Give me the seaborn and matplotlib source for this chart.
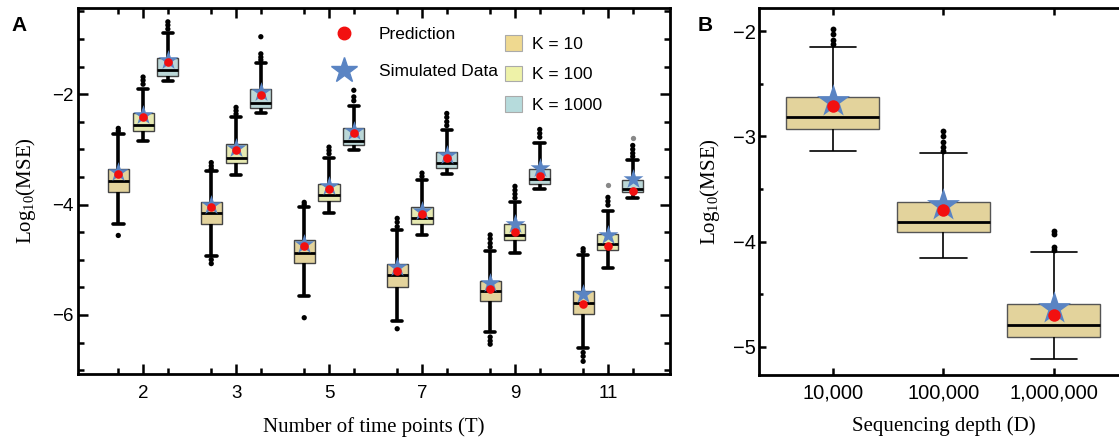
import numpy as np
import pandas as pd
import matplotlib
matplotlib.use("Agg")
import matplotlib.pyplot as plt
import seaborn as sns
from matplotlib.lines import Line2D
from matplotlib.patches import Patch
from matplotlib.ticker import MultipleLocator, FixedLocator

sns.set_style("ticks")
plt.rcParams['font.family'] = ['Liberation Sans', 'DejaVu Sans']
plt.rcParams['mathtext.fontset'] = 'custom'
plt.rcParams['mathtext.rm'] = 'Liberation Serif'
plt.rcParams['mathtext.it'] = 'Liberation Serif:italic'
plt.rcParams['axes.edgecolor'] = 'black'
plt.rcParams['xtick.color'] = 'black'
plt.rcParams['ytick.color'] = 'black'
plt.rcParams['text.color'] = 'black'
plt.rcParams['axes.labelcolor'] = 'black'

# ---------------- data: panel A ----------------
T_labels = ["2", "3", "5", "7", "9", "11"]
K_labels = ["K = 10", "K = 100", "K = 1000"]

k10_lo   = [-4.35, -4.93, -5.65, -6.11, -6.31, -6.60]
k10_q1   = [-3.78, -4.36, -5.05, -5.49, -5.75, -5.98]
k10_med  = [-3.58, -4.16, -4.87, -5.27, -5.56, -5.78]
k10_q3   = [-3.36, -3.96, -4.65, -5.07, -5.38, -5.56]
k10_hi   = [-2.73, -3.40, -4.05, -4.47, -4.84, -4.91]
k10_pred = [-3.45, -4.05, -4.76, -5.20, -5.53, -5.80]
k10_sim  = [-3.41, -4.01, -4.71, -5.14, -5.42, -5.62]
k10_out  = [[-2.62, -2.67, -4.56],
            [-3.24, -3.30, -3.35, -5.00, -5.07],
            [-3.96, -4.00, -6.05],
            [-4.25, -4.32, -4.40, -6.25],
            [-4.55, -4.62, -4.70, -4.77, -6.40, -6.47, -6.53],
            [-4.80, -4.85, -6.68, -6.75, -6.84]]

k100_lo   = [-2.85, -3.47, -4.16, -4.56, -4.87, -5.15]
k100_q1   = [-2.67, -3.25, -3.93, -4.35, -4.64, -4.82]
k100_med  = [-2.56, -3.15, -3.82, -4.24, -4.55, -4.71]
k100_q3   = [-2.35, -2.91, -3.62, -4.05, -4.35, -4.53]
k100_hi   = [-1.91, -2.42, -3.16, -3.56, -3.96, -4.11]
k100_pred = [-2.42, -3.02, -3.71, -4.17, -4.49, -4.76]
k100_sim  = [-2.38, -2.97, -3.66, -4.11, -4.35, -4.55]
k100_out  = [[-1.69, -1.75, -1.82],
             [-2.24, -2.30, -2.36],
             [-2.96, -3.02, -3.08],
             [-3.43, -3.49],
             [-3.67, -3.74, -3.81, -3.88],
             [-3.87, -3.94, -4.01]]

k1000_lo   = [-1.76, -2.35, -3.02, -3.45, -3.71, -3.89]
k1000_q1   = [-1.67, -2.25, -2.93, -3.34, -3.62, -3.78]
k1000_med  = [-1.56, -2.16, -2.84, -3.24, -3.53, -3.71]
k1000_q3   = [-1.35, -1.91, -2.62, -3.05, -3.35, -3.55]
k1000_hi   = [-0.89, -1.44, -2.22, -2.65, -2.89, -3.20]
k1000_pred = [-1.42, -2.02, -2.71, -3.16, -3.49, -3.76]
k1000_sim  = [-1.38, -1.97, -2.66, -3.10, -3.33, -3.53]
k1000_out  = [[-0.69, -0.75, -0.82],
              [-0.96, -1.27, -1.33, -1.38],
              [-1.93, -2.05, -2.12],
              [-2.35, -2.42, -2.50, -2.57],
              [-2.64, -2.71, -2.78],
              [-2.93, -3.00, -3.07, -3.13]]

faint_T = ["11", "11"]
faint_K = ["K = 100", "K = 1000"]
faint_v = [-3.64, -2.80]

# ---------------- data: panel B ----------------
D_labels = ["10,000", "100,000", "1,000,000"]
b_lo   = [-3.14, -4.16, -5.12]
b_q1   = [-2.93, -3.91, -4.91]
b_med  = [-2.82, -3.81, -4.79]
b_q3   = [-2.63, -3.62, -4.59]
b_hi   = [-2.15, -3.16, -4.10]
b_pred = [-2.71, -3.70, -4.70]
b_sim  = [-2.66, -3.65, -4.63]
b_out  = [[-1.98, -2.03, -2.08, -2.12],
          [-2.95, -3.00, -3.05, -3.10, -3.14],
          [-3.90, -3.93, -4.05, -4.08]]

# ---------------- styles ----------------
K_colors = {"K = 10": "#EFD990", "K = 100": "#EEF2A8", "K = 1000": "#B6DBDC"}
RED = "#F21010"
BLUE = "#5A84C3"

# ---------------- tables ----------------
stats = {
    "K = 10": (k10_lo, k10_q1, k10_med, k10_q3, k10_hi, k10_pred, k10_sim, k10_out),
    "K = 100": (k100_lo, k100_q1, k100_med, k100_q3, k100_hi, k100_pred, k100_sim, k100_out),
    "K = 1000": (k1000_lo, k1000_q1, k1000_med, k1000_q3, k1000_hi, k1000_pred, k1000_sim, k1000_out),
}
box_rows, pred_rows, sim_rows, out_rows = [], [], [], []
for k, (lo, q1, med, q3, hi, pr, si, ou) in stats.items():
    for i, t in enumerate(T_labels):
        for v in (lo[i], q1[i], med[i], q3[i], hi[i]):
            box_rows.append(dict(T=t, K=k, v=v))
        pred_rows.append(dict(T=t, K=k, v=pr[i]))
        sim_rows.append(dict(T=t, K=k, v=si[i]))
        for v in ou[i]:
            out_rows.append(dict(T=t, K=k, v=v))
dfA = pd.DataFrame(box_rows)
dfA_pred = pd.DataFrame(pred_rows)
dfA_sim = pd.DataFrame(sim_rows)
dfA_out = pd.DataFrame(out_rows)
dfA_faint = pd.DataFrame(dict(T=faint_T, K=faint_K, v=faint_v))

rowsB, outB = [], []
for i, d in enumerate(D_labels):
    for v in (b_lo[i], b_q1[i], b_med[i], b_q3[i], b_hi[i]):
        rowsB.append(dict(D=d, v=v))
    for v in b_out[i]:
        outB.append(dict(D=d, v=v))
dfB = pd.DataFrame(rowsB)
dfB_out = pd.DataFrame(outB)
dfB_pred = pd.DataFrame(dict(D=D_labels, v=b_pred))
dfB_sim = pd.DataFrame(dict(D=D_labels, v=b_sim))

# ---------------- figure ----------------
fig = plt.figure(figsize=(11.19, 4.46), dpi=100)
axA = fig.add_axes([0.0697, 0.1614, 0.529, 0.8206])
axB = fig.add_axes([0.678, 0.159, 0.33, 0.823])

common = dict(order=T_labels, hue_order=K_labels, ax=axA)

sns.boxplot(data=dfA, x="T", y="v", hue="K", palette=K_colors, width=0.8, gap=0.15,
            whis=(0, 100), showfliers=False, linewidth=2.4, linecolor="black",
            boxprops=dict(edgecolor="#444444", linewidth=1.0),
            medianprops=dict(color="black", linewidth=2.0),
            whiskerprops=dict(color="black", linewidth=2.6),
            capprops=dict(color="black", linewidth=2.6),
            legend=False, **common)
sns.stripplot(data=dfA_out, x="T", y="v", hue="K", dodge=True, jitter=False,
              palette={k: "black" for k in K_labels}, size=3.8, legend=False, zorder=1.5, **common)
sns.stripplot(data=dfA_faint, x="T", y="v", hue="K", dodge=True, jitter=False,
              palette={k: "#888888" for k in K_labels}, size=3.8, legend=False, zorder=1.5, **common)
sns.stripplot(data=dfA_sim, x="T", y="v", hue="K", dodge=True, jitter=False, marker="*",
              palette={k: BLUE for k in K_labels}, size=15, legend=False, zorder=5, **common)
sns.stripplot(data=dfA_pred, x="T", y="v", hue="K", dodge=True, jitter=False, marker="o",
              palette={k: RED for k in K_labels}, size=6.2, legend=False, zorder=6, **common)

axA.set_xlim(-0.70, len(T_labels) - 1 + 0.667)
axA.set_ylim(-7.07, -0.44)
axA.yaxis.set_major_locator(MultipleLocator(2))
axA.yaxis.set_minor_locator(MultipleLocator(0.5))
off = 0.8 / 3
axA.xaxis.set_minor_locator(FixedLocator([i + s for i in range(len(T_labels)) for s in (-off, off)]))
axA.tick_params(which="both", direction="in", top=True, right=True, width=1.8, labelsize=13.5)
axA.tick_params(which="major", length=7)
axA.tick_params(which="minor", length=4)
axA.tick_params(axis="x", pad=8)
axA.tick_params(axis="y", pad=3)
for s in axA.spines.values():
    s.set_linewidth(2.0)
axA.set_xlabel("Number of time points (T)", family="Liberation Serif", fontsize=15, labelpad=11)
axA.set_ylabel(r"$\mathrm{Log}_{10}\mathrm{(MSE)}$", fontsize=15, labelpad=10)

leg1 = axA.legend(handles=[Line2D([], [], marker="o", color=RED, ls="", ms=9),
                           Line2D([], [], marker="*", color=BLUE, ls="", ms=19)],
                  labels=["Prediction", "Simulated Data"], loc="upper left",
                  bbox_to_anchor=(0.428, 0.948), frameon=False, fontsize=12.5,
                  handlelength=1.5, handletextpad=1.25, labelspacing=1.25,
                  borderpad=0, borderaxespad=0)
axA.add_artist(leg1)
axA.legend(handles=[Patch(fc=K_colors[k], ec="#AAAAAA", lw=0.8) for k in K_labels],
           labels=K_labels, loc="upper left", bbox_to_anchor=(0.721, 0.925),
           frameon=False, fontsize=12.5, handlelength=1.0, handleheight=1.0,
           handletextpad=0.55, labelspacing=0.78, borderpad=0, borderaxespad=0)

# ---------------- panel B ----------------
cB = dict(order=D_labels, ax=axB)
sns.boxplot(data=dfB, x="D", y="v", color="#EFD990", width=0.84, whis=(0, 100),
            showfliers=False, linewidth=1.2, linecolor="black",
            boxprops=dict(edgecolor="#555555", linewidth=1.0),
            medianprops=dict(color="black", linewidth=2.0), **cB)
sns.stripplot(data=dfB_out, x="D", y="v", jitter=False, color="black", size=4.2, zorder=1.5, **cB)
sns.stripplot(data=dfB_sim, x="D", y="v", jitter=False, color=BLUE, marker="*", size=25, zorder=5, **cB)
sns.stripplot(data=dfB_pred, x="D", y="v", jitter=False, color=RED, marker="o", size=9, zorder=6, **cB)

axB.set_xlim(-0.67, 2.67)
axB.set_ylim(-5.27, -1.78)
axB.yaxis.set_major_locator(MultipleLocator(1))
axB.yaxis.set_minor_locator(MultipleLocator(0.5))
axB.tick_params(which="both", direction="in", top=True, right=True, width=1.8, labelsize=14.5)
axB.tick_params(which="major", length=5)
axB.tick_params(which="minor", length=3)
axB.tick_params(axis="x", pad=6)
axB.tick_params(axis="y", pad=2)
for s in axB.spines.values():
    s.set_linewidth(2.0)
axB.set_xlabel("Sequencing depth (D)", family="Liberation Serif", fontsize=15, labelpad=10)
axB.set_ylabel(r"$\mathrm{Log}_{10}\mathrm{(MSE)}$", fontsize=15, labelpad=8)

fig.text(0.010, 0.965, "A", fontsize=15, fontweight="bold", va="top", ha="left")
fig.text(0.623, 0.965, "B", fontsize=15, fontweight="bold", va="top", ha="left")

fig.savefig("out.png", dpi=100)
